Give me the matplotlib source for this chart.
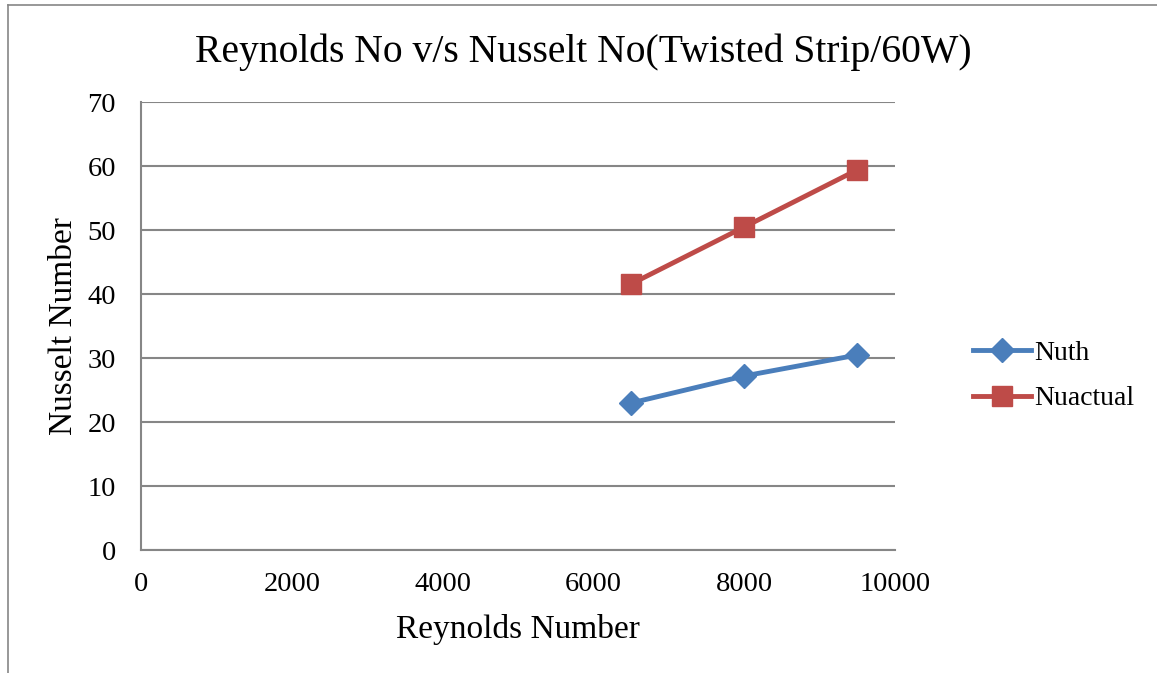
import matplotlib
matplotlib.use("Agg")
import matplotlib.pyplot as plt
from matplotlib.lines import Line2D

plt.rcParams['font.family'] = ['Liberation Serif', 'DejaVu Serif']

reynolds = [6500, 8000, 9500]
nu_th = [22.97, 27.19, 30.47]
nu_actual = [41.56, 50.47, 59.4]
x_ticks = [0, 2000, 4000, 6000, 8000, 10000]
y_ticks = [0, 10, 20, 30, 40, 50, 60, 70]

blue = '#4A7EBB'
red = '#BE4B48'
grey = '#868686'

fig = plt.figure(figsize=(11.57, 6.73), dpi=100)
ax = fig.add_axes([141/1157, 1-550/673, (895-141)/1157, (550-102)/673])

ax.plot(reynolds, nu_th, color=blue, lw=3.5, marker='D', ms=12, label='Nuth', zorder=3)
ax.plot(reynolds, nu_actual, color=red, lw=3.5, marker='s', ms=14, label='Nuactual', zorder=3)

ax.set_xlim(0, 10000)
ax.set_ylim(0, 70)
ax.set_xticks(x_ticks)
ax.set_yticks(y_ticks)
ax.tick_params(length=0, labelsize=20.5, pad=16)
ax.tick_params(axis='y', pad=18)
ax.grid(axis='y', color=grey, lw=1.5)
ax.set_axisbelow(True)
for s in ['top', 'right']:
    ax.spines[s].set_visible(False)
for s in ['left', 'bottom']:
    ax.spines[s].set_color(grey)
    ax.spines[s].set_linewidth(1.5)

ax.set_xlabel('Reynolds Number', fontsize=24, labelpad=12)
ax.set_ylabel('Nusselt Number', fontsize=24, labelpad=6)
fig.text(583/1157, 1-52/673, 'Reynolds No v/s Nusselt No(Twisted Strip/60W)',
         fontsize=28.5, ha='center', va='center')

fig.legend(handles=ax.get_lines(), loc='center left',
           bbox_to_anchor=(948/1157, 1-376/673), frameon=False, fontsize=20,
           handlelength=2.1, handletextpad=0.1, labelspacing=0.72)

# frame edges along left and top
fig.add_artist(Line2D([8/1157, 8/1157], [0, 1-5/673], transform=fig.transFigure, color=grey, lw=1.2))
fig.add_artist(Line2D([8/1157, 1], [1-5/673, 1-5/673], transform=fig.transFigure, color=grey, lw=1.2))

fig.savefig('out.png', dpi=100)
